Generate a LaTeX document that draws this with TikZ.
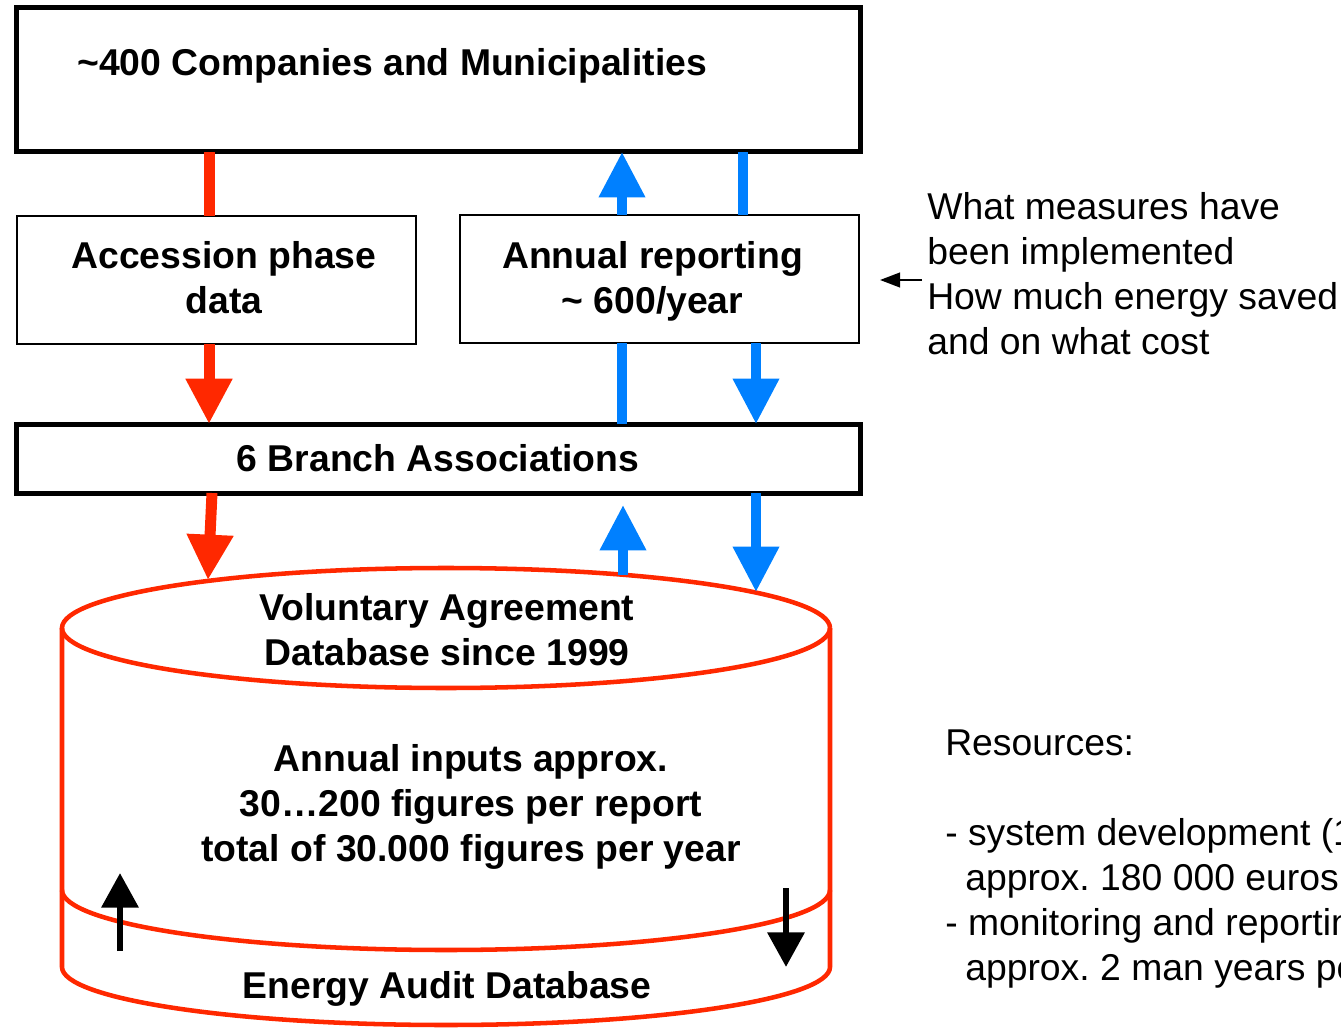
\documentclass[tikz,border=0pt]{standalone}
\usepackage{fontspec}
\setmainfont{Liberation Sans}
\usetikzlibrary{arrows.meta,calc}
\definecolor{rd}{RGB}{255,40,0}
\definecolor{bl}{RGB}{0,128,255}
\frenchspacing
\begin{document}
\begin{tikzpicture}[x=0.75pt,y=-0.75pt,
  thickbox/.style={draw,line width=3.75pt,outer sep=0pt,inner sep=0pt},
  thinbox/.style={draw,line width=1.5pt,outer sep=0pt,inner sep=0pt},
  boldtxt/.style={font=\fontsize{28}{33.75}\selectfont\bfseries,align=center,inner sep=0pt},
  plaintxt/.style={font=\fontsize{28}{33.75}\selectfont,align=left,inner sep=0pt,anchor=north west},
  redflow/.style={draw=rd,line width=8.25pt},
  blueflow/.style={draw=bl,line width=7.5pt},
  bighead/.style={-{Triangle[width=33pt,length=34pt]}},
  blackflow/.style={draw=black,line width=5pt,-{Triangle[width=27pt,length=26pt]}},
  cyl/.style={draw=rd,line width=3.4pt},
]
\useasboundingbox (0,0) rectangle (1341,1030);
\clip (0,0) rectangle (1341,1030);

% boxes
\node[thickbox,minimum width=633pt,minimum height=108pt] (top) at (438,80) {};
\node[boldtxt,anchor=base west] (toptxt) at (77,76) {\textasciitilde400 Companies and Municipalities};
\node[thinbox,minimum width=299.25pt,minimum height=96pt] (acc) at (216.5,280) {};
\node[boldtxt] (acctxt) at (224,277.5) {Accession phase\\data};
\node[thinbox,minimum width=299.25pt,minimum height=96pt] (ann) at (659.5,279) {};
\node[boldtxt] (anntxt) at (652.5,281) {Annual reporting\\\textasciitilde{} 600/year};
\node[thickbox,minimum width=633pt,minimum height=51.75pt,font=\fontsize{28}{33.75}\selectfont\bfseries] (br) at (438,458.5) {6 Branch Associations};

% cylinder
\draw[cyl] (830,628) arc[start angle=0,end angle=360,x radius=384,y radius=60];
\draw[cyl] (62,628) -- (62,967) arc[start angle=180,end angle=0,x radius=384,y radius=58] -- (830,628);
\draw[cyl] (62,890) arc[start angle=180,end angle=0,x radius=384,y radius=60];
\node[boldtxt] (vad) at (447,629.5) {Voluntary Agreement\\Database since 1999};
\node[boldtxt] (inp) at (471,807) {Annual inputs approx.\\30…200 figures per report\\total of 30.000 figures per year};
\node[boldtxt] (ead) at (447,989) {Energy Audit Database};

% columns
\coordinate (xa) at (209,0);
\coordinate (xb1) at (622,0);
\coordinate (xb2) at (743,0);
\coordinate (xb3) at (756,0);

% flows top
\draw[redflow] (top.south -| xa) -- (acc.north -| xa);
\draw[blueflow,bighead] (ann.north -| xb1) -- (top.south -| xb1);
\draw[blueflow] (top.south -| xb2) -- (ann.north -| xb2);
% flows middle
\draw[redflow,bighead] (acc.south -| xa) -- (br.north -| xa);
\draw[blueflow] (br.north -| xb1) -- (ann.south -| xb1);
\draw[blueflow,bighead] (ann.south -| xb3) -- (br.north -| xb3);
% flows bottom
\coordinate (rs) at (212,493);
\coordinate (re) at (208,580);
\coordinate (bu1) at (623,575);
\coordinate (bu2) at (623,505);
\coordinate (bd) at (756,592);
\draw[redflow,bighead] (rs) -- (re);
\draw[blueflow,bighead] (bu1) -- (bu2);
\draw[blueflow,bighead] (br.south -| xb3) -- (bd);

% black arrows in cylinder
\coordinate (ua) at (120,951);
\coordinate (ub) at (120,873);
\coordinate (da) at (786,888);
\coordinate (db) at (786,967);
\draw[blackflow] (ua) -- (ub);
\draw[blackflow] (da) -- (db);

% right texts
\node[plaintxt] (q) at (927,192.5) {What measures have\\been implemented\\How much energy saved\\and on what cost};
\coordinate (qa) at (922,280);
\coordinate (qb) at (880,280);
\draw[line width=1.5pt,-{Triangle[width=11pt,length=15pt]}] (qa) -- (qb);
\node[plaintxt] (res) at (945,729.5) {Resources:\\[33.75pt]- system development (1\\\hspace*{15pt}approx. 180 000 euros\\- monitoring and reportin\\\hspace*{15pt}approx. 2 man years pe};
\end{tikzpicture}
\end{document}
